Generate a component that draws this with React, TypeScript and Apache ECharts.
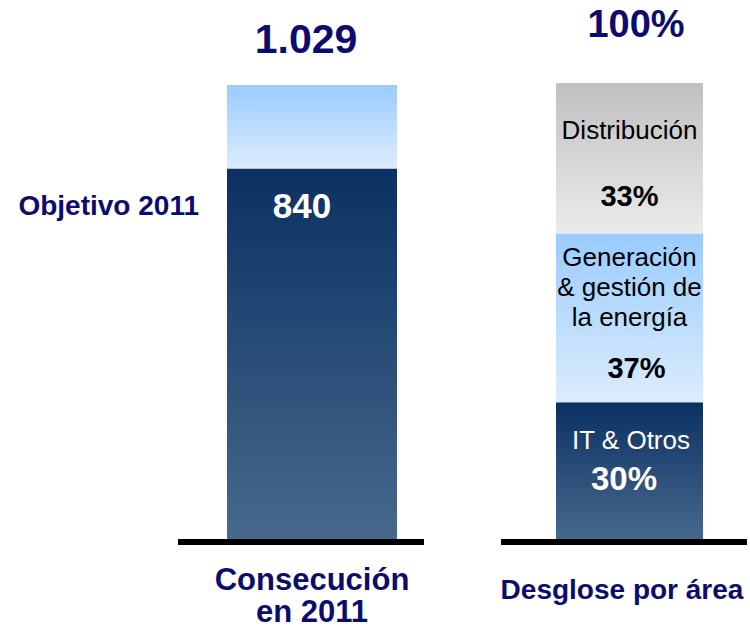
import React, { useEffect, useRef } from 'react';
import * as echarts from 'echarts';

// ---- data ----
const leftCategories = ['Consecución\nen 2011'];
const objetivoValues = [840];
const consecucionValues = [1029];
const objetivoLabel = 'Objetivo 2011';

const rightCategories = ['Desglose por área'];
const areaNames = ['IT & Otros', 'Generación\n& gestión de\nla energía', 'Distribución'];
const areaShares = [30, 37, 33];

// ---- styles ----
const FONT = '"Liberation Sans", Arial, Helvetica, sans-serif';
const NAVY = '#0c0c6e';

const fmt = (n: number) => String(n).replace(/\B(?=(\d{3})+(?!\d))/g, '.');

const grad = (top: string, bottom: string) =>
  new echarts.graphic.LinearGradient(0, 0, 0, 1, [
    { offset: 0, color: top },
    { offset: 1, color: bottom },
  ]);

const darkGrad = () => grad('#0a3163', '#48698d');
const lightGrad = () => grad('#99ccff', '#ddecfc');
const greyGrad = () => grad('#c0c0c0', '#ebebeb');

export default function App() {
  const ref = useRef<HTMLDivElement>(null);

  useEffect(() => {
    if (!ref.current) return;
    const chart = echarts.init(ref.current, undefined, { renderer: 'svg' });
    const totalShare = areaShares.reduce((a, b) => a + b, 0);

    const lines = (s: string) => s.split('\n').map((l) => `{n|${l}}`).join('\n');

    chart.setOption({
      animation: false,
      textStyle: { fontFamily: FONT },
      grid: [
        { left: 227, top: 85, width: 170, height: 454, containLabel: false, outerBoundsMode: 'none' },
        { left: 556, top: 83, width: 147, height: 456, containLabel: false, outerBoundsMode: 'none' },
      ],
      xAxis: [
        {
          type: 'category',
          gridIndex: 0,
          data: leftCategories,
          axisLine: { show: false },
          axisTick: { show: false },
          axisLabel: {
            interval: 0,
            margin: 24,
            fontSize: 31,
            lineHeight: 32,
            fontWeight: 'bold',
            color: NAVY,
            fontFamily: FONT,
          },
        },
        {
          type: 'category',
          gridIndex: 1,
          data: rightCategories,
          axisLine: { show: false },
          axisTick: { show: false },
          axisLabel: {
            interval: 0,
            margin: 35,
            fontSize: 28,
            lineHeight: 30,
            fontWeight: 'bold',
            color: NAVY,
            fontFamily: FONT,
            padding: [0, 15, 0, 0],
          },
        },
      ],
      yAxis: [
        { type: 'value', gridIndex: 0, min: 0, max: consecucionValues[0], show: false },
        { type: 'value', gridIndex: 1, min: 0, max: totalShare, show: false },
      ],
      graphic: [
        { type: 'line', shape: { x1: 178, y1: 542, x2: 424, y2: 542 }, style: { stroke: '#000', lineWidth: 6 } },
        { type: 'line', shape: { x1: 501, y1: 542, x2: 747, y2: 542 }, style: { stroke: '#000', lineWidth: 6 } },
      ],
      series: [
        {
          type: 'bar',
          xAxisIndex: 0,
          yAxisIndex: 0,
          stack: 'left',
          barWidth: '100%',
          data: objetivoValues.map((v) => ({ value: v, itemStyle: { color: darkGrad() } })),
          label: {
            show: true,
            position: [75, 37],
            align: 'center',
            verticalAlign: 'middle',
            formatter: (p: any) => fmt(p.value),
            color: '#fff',
            fontSize: 35,
            fontWeight: 'bold',
            fontFamily: FONT,
          },
          markPoint: {
            symbol: 'rect',
            symbolSize: 1,
            itemStyle: { color: 'rgba(0,0,0,0)' },
            label: {
              show: true,
              position: 'left',
              distance: 0,
              offset: [-112.5, 37],
              formatter: '{b}',
              color: NAVY,
              fontSize: 28,
              fontWeight: 'bold',
              fontFamily: FONT,
            },
            data: [{ name: objetivoLabel, coord: [0, objetivoValues[0]] }],
          },
        },
        {
          type: 'bar',
          xAxisIndex: 0,
          yAxisIndex: 0,
          stack: 'left',
          barWidth: '100%',
          data: consecucionValues.map((v, i) => ({ value: v - objetivoValues[i], itemStyle: { color: lightGrad() } })),
          label: {
            show: true,
            position: [79, -46],
            align: 'center',
            verticalAlign: 'middle',
            formatter: (p: any) => fmt(consecucionValues[p.dataIndex]),
            color: NAVY,
            fontSize: 41,
            fontWeight: 'bold',
            fontFamily: FONT,
          },
        },
        {
          type: 'bar',
          name: areaNames[0],
          xAxisIndex: 1,
          yAxisIndex: 1,
          stack: 'right',
          barWidth: '100%',
          data: [{ value: areaShares[0], itemStyle: { color: darkGrad() } }],
          label: {
            show: true,
            position: [75, 19],
            align: 'center',
            verticalAlign: 'top',
            formatter: () => `${lines(areaNames[0])}\n{v|${areaShares[0]}%}`,
            rich: {
              n: { fontSize: 26, lineHeight: 38, color: '#fff', fontFamily: FONT },
              v: { fontSize: 33, lineHeight: 38, color: '#fff', fontWeight: 'bold', fontFamily: FONT, padding: [0, 14, 0, 0] },
            },
          },
        },
        {
          type: 'bar',
          name: areaNames[1],
          xAxisIndex: 1,
          yAxisIndex: 1,
          stack: 'right',
          barWidth: '100%',
          data: [{ value: areaShares[1], itemStyle: { color: lightGrad() } }],
          label: {
            show: true,
            position: [73.5, 9],
            align: 'center',
            verticalAlign: 'top',
            formatter: () => `${lines(areaNames[1])}\n{v|${areaShares[1]}%}`,
            rich: {
              n: { fontSize: 26, lineHeight: 30, color: '#000', fontFamily: FONT },
              v: { fontSize: 29, lineHeight: 71, color: '#000', fontWeight: 'bold', fontFamily: FONT, padding: [0, 0, 0, 14] },
            },
          },
        },
        {
          type: 'bar',
          name: areaNames[2],
          xAxisIndex: 1,
          yAxisIndex: 1,
          stack: 'right',
          barWidth: '100%',
          data: [{ value: areaShares[2], itemStyle: { color: greyGrad() } }],
          label: {
            show: true,
            position: [73.5, 14],
            align: 'center',
            verticalAlign: 'top',
            formatter: () => `${lines(areaNames[2])}\n{v|${areaShares[2]}%}`,
            rich: {
              n: { fontSize: 26, lineHeight: 66, color: '#000', fontFamily: FONT },
              v: { fontSize: 29, lineHeight: 66, color: '#000', fontWeight: 'bold', fontFamily: FONT },
            },
          },
          markPoint: {
            symbol: 'rect',
            symbolSize: 1,
            itemStyle: { color: 'rgba(0,0,0,0)' },
            label: {
              show: true,
              position: 'inside',
              offset: [6.5, -59],
              formatter: () => `${totalShare}%`,
              color: NAVY,
              fontSize: 38,
              fontWeight: 'bold',
              fontFamily: FONT,
            },
            data: [{ name: 'total', coord: [0, totalShare] }],
          },
        },
      ],
    });

    return () => chart.dispose();
  }, []);

  return (
    <div
      ref={ref}
      style={{ position: 'fixed', left: 0, top: 0, width: 750, height: 628, background: '#fff' }}
    />
  );
}
